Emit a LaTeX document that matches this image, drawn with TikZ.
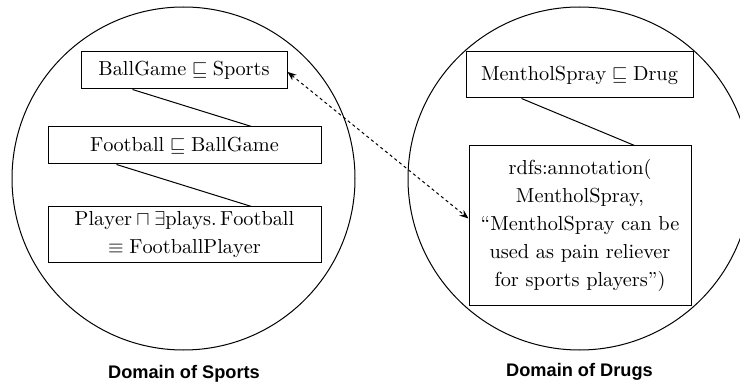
\documentclass[tikz,border=0pt]{standalone}
\usepackage{amssymb}
\usepackage{fontspec}
\newfontfamily\labfont{Liberation Sans}
\usetikzlibrary{arrows.meta}
\begin{document}
\begin{tikzpicture}[x=0.5pt,y=-0.5pt,
  axbox/.style={draw, line width=0.5pt, inner sep=0pt, align=center,
    font=\fontsize{10.15pt}{14pt}\selectfont},
  domcircle/.style={draw, line width=0.5pt, circle, minimum size=171.5pt, inner sep=0pt},
  domlabel/.style={font=\labfont\bfseries\fontsize{9.1pt}{11pt}\selectfont, anchor=base, inner sep=0pt},
  link/.style={line width=0.5pt},
  annolink/.style={line width=0.5pt, dash pattern=on 1.5pt off 1.5pt,
    {Stealth[length=4.5pt,width=3.5pt]}-{Stealth[length=4.5pt,width=3.5pt]}}]
\useasboundingbox (0,0) rectangle (740,385);
\begin{scope}
\clip (0,0) rectangle (740,385);
\node[domcircle] (sports) at (183.5,178.5) {};
\node[domcircle] (drugs) at (579.5,178.5) {};
\end{scope}
% sports boxes
\node[axbox, minimum width=103pt, minimum height=18.5pt] (bg) at (184,70.5)
  {$\mathrm{BallGame}\sqsubseteq\mathrm{Sports}$};
\node[axbox, minimum width=136.5pt, minimum height=18.5pt] (fb) at (184.5,145.5)
  {$\mathrm{Football}\sqsubseteq\mathrm{BallGame}$};
\node[axbox, minimum width=136.5pt, minimum height=28pt] (pl) at (184.5,235)
  {$\mathrm{Player}\sqcap\exists\mathrm{plays}.\,\mathrm{Football}$\\$\equiv\mathrm{FootballPlayer}$};
% drugs boxes
\node[axbox, minimum width=113.5pt, minimum height=23pt] (ms) at (579.5,75)
  {$\mathrm{MentholSpray}\sqsubseteq\mathrm{Drug}$};
\node[axbox, minimum width=111pt, minimum height=79.5pt] (an) at (580,225.5)
  {rdfs:annotation(\\MentholSpray,\\``MentholSpray can be\\used as pain reliever\\for sports players'')};
% links
\draw[link] ([xshift=26pt]bg.south west) -- ([xshift=102pt]fb.north west);
\draw[link] ([xshift=34.5pt]fb.south west) -- ([xshift=102pt]pl.north west);
\draw[link] ([xshift=28pt]ms.south west) -- ([xshift=83pt]an.north west);
\draw[annolink] ([yshift=-0.7pt]bg.east) -- ([yshift=3.5pt]an.west);
% labels
\node[domlabel] (l1) at (184,379) {Domain of Sports};
\node[domlabel] (l2) at (579.5,376) {Domain of Drugs};
\end{tikzpicture}
\end{document}
